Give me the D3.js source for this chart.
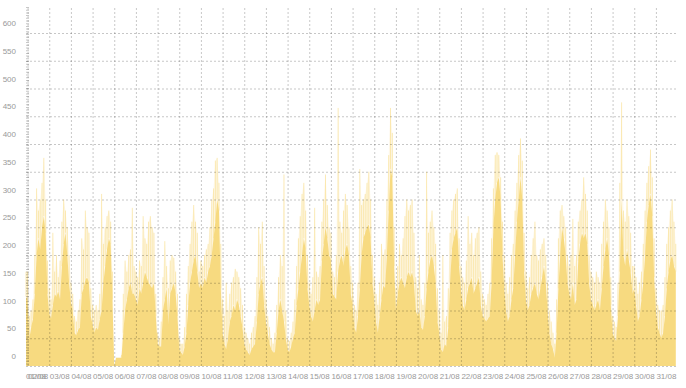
<!DOCTYPE html>
<html>
<head>
<meta charset="utf-8">
<script src="https://cdn.jsdelivr.net/npm/d3@7"></script>
<style>
  html, body { margin: 0; padding: 0; background: #fff; }
  svg { display: block; }
</style>
</head>
<body>
<svg id="chart" width="686" height="388"></svg>
<script>
// tick labels
const dayLabels = ["01/08","02/08","03/08","04/08","05/08","06/08","07/08","08/08","09/08","10/08",
  "11/08","12/08","13/08","14/08","15/08","16/08","17/08","18/08","19/08","20/08",
  "21/08","22/08","23/08","24/08","25/08","26/08","27/08","28/08","29/08","30/08","31/08"];
const yTicks = [0, 50, 100, 150, 200, 250, 300, 350, 400, 450, 500, 550, 600];

// first sample, 01/08 22:15
const firstLevel = 125;
const firstPeak = 170;

// 2-hourly samples per day (00h, 02h ... 22h), 02/08 -> 31/08
// level = dense body of the series, peak = short spikes above it
const level = [
  [120,50,70,85,130,200,230,210,250,270,240,130],   // 02/08
  [95,85,110,130,125,135,120,180,220,240,200,150],  // 03/08
  [115,100,60,55,65,70,130,140,155,160,150,90],     // 04/08
  [75,60,70,65,85,100,150,180,210,230,220,120],     // 05/08
  [0,15,15,15,15,60,100,120,140,150,130,130],       // 06/08
  [120,110,140,130,150,170,160,150,145,140,150,90], // 07/08
  [40,35,35,100,120,140,75,130,140,150,130,90],     // 08/08
  [30,25,20,35,60,110,150,170,190,200,170,140],     // 09/08
  [150,140,160,150,170,180,200,230,260,300,280,140],// 10/08
  [60,40,30,50,80,90,110,100,120,110,90,70],        // 11/08
  [40,30,25,20,30,35,40,80,130,150,160,110],        // 12/08
  [80,60,40,30,25,25,60,100,120,100,80,50],         // 13/08
  [30,25,35,50,60,110,140,170,200,230,210,140],     // 14/08
  [110,90,80,100,120,110,120,190,220,250,230,200],  // 15/08
  [190,130,125,120,170,190,200,180,210,220,200,130],// 16/08
  [110,70,60,90,140,200,230,240,250,255,230,150],   // 17/08
  [120,80,60,90,120,145,140,200,280,355,340,180],   // 18/08
  [100,130,150,160,150,140,160,170,160,170,150,100],// 19/08
  [90,100,70,65,90,140,170,190,200,180,150,80],     // 20/08
  [60,30,25,40,35,70,150,210,230,240,250,180],      // 21/08
  [140,110,100,120,140,150,160,130,140,150,160,110],// 22/08
  [90,85,80,85,90,150,250,300,330,340,300,200],     // 23/08
  [140,100,80,90,120,140,200,260,300,340,300,170],  // 24/08
  [120,100,110,130,140,150,130,120,140,160,180,150],// 25/08
  [100,60,40,30,15,60,140,200,250,230,200,150],     // 26/08
  [130,120,150,110,120,190,220,240,230,240,220,150],// 27/08
  [120,110,100,110,120,100,140,180,210,230,200,110],// 28/08
  [60,50,45,90,170,300,200,180,210,190,170,130],    // 29/08
  [140,110,80,90,120,150,200,260,290,310,270,160],  // 30/08
  [100,70,60,50,60,90,140,170,190,200,180,170]      // 31/08
];
const peak = [
  [170,90,100,120,200,320,280,300,330,375,300,190],
  [140,120,240,170,200,160,190,260,300,280,250,200],
  [150,130,90,80,100,120,230,210,280,250,240,140],
  [110,100,110,100,130,310,220,250,270,280,260,170],
  [0,15,15,15,20,130,190,170,200,210,285,180],
  [170,160,190,180,270,230,220,260,270,250,240,130],
  [60,50,80,160,225,180,140,190,200,195,170,130],
  [50,40,40,70,130,180,220,260,290,260,240,170],
  [190,180,200,210,220,250,300,320,370,375,330,220],
  [120,90,150,100,130,150,160,175,170,160,140,110],
  [70,60,50,40,60,70,90,160,250,220,260,180],
  [120,90,70,50,40,60,110,160,200,180,345,100],
  [50,45,60,80,120,180,230,270,310,330,280,200],
  [150,130,160,285,170,160,180,260,300,345,290,250],
  [240,170,160,200,465,260,240,280,310,290,250,180],
  [150,110,100,150,355,290,300,310,330,350,300,200],
  [160,130,110,150,220,200,210,300,380,465,420,250],
  [140,180,220,200,230,270,300,280,290,300,240,160],
  [140,200,120,110,150,350,240,260,280,250,220,140],
  [100,60,200,80,90,140,240,280,300,310,320,230],
  [180,160,150,190,270,220,240,200,230,240,250,170],
  [130,120,110,130,150,230,320,380,385,380,340,260],
  [200,150,130,160,200,220,280,330,380,410,370,240],
  [170,140,160,200,230,260,200,190,210,220,230,200],
  [150,100,80,60,40,120,230,280,290,270,250,200],
  [180,200,265,180,200,260,280,300,340,310,280,200],
  [170,160,150,170,160,150,220,260,300,280,250,160],
  [90,80,70,150,330,475,280,260,300,270,240,180],
  [180,160,130,150,170,220,280,330,360,390,340,230],
  [140,110,100,100,110,160,220,250,280,300,260,220]
];

const margin = { top: 7, right: 10, bottom: 22, left: 26 };
const width = 686 - margin.left - margin.right;
const height = 388 - margin.top - margin.bottom;
const fillColor = '#f7da80';
const gridColor = 'rgba(0,0,0,0.22)';
const font = 'Liberation Sans, Arial, sans-serif';

const start = new Date(2024, 7, 1, 22, 15);
const end = new Date(2024, 7, 31, 22, 15);

const series = [{ t: start, level: firstLevel, peak: firstPeak }];
level.forEach((day, i) => {
  day.forEach((v, j) => {
    series.push({ t: new Date(2024, 7, 2 + i, 2 * j), level: v, peak: peak[i][j] });
  });
});

const svg = d3.select('#chart');
const g = svg.append('g').attr('transform', `translate(${margin.left},${margin.top})`);

const x = d3.scaleTime().domain([start, end]).range([0, width]);
const y = d3.scaleLinear().domain([0, 600]).range([height, 26]);

// faint envelope of the spikes
g.append('path')
  .datum(series)
  .attr('fill', fillColor)
  .attr('fill-opacity', 0.18)
  .attr('d', d3.area().x(d => x(d.t)).y0(height).y1(d => y(d.peak)));

// spikes
g.selectAll('.spike')
  .data(series)
  .enter()
  .append('line')
  .attr('class', 'spike')
  .attr('x1', d => x(d.t))
  .attr('x2', d => x(d.t))
  .attr('y1', d => y(d.level))
  .attr('y2', d => y(d.peak))
  .attr('stroke', fillColor)
  .attr('stroke-opacity', 0.55)
  .attr('stroke-width', 1);

// body
g.append('path')
  .datum(series)
  .attr('fill', fillColor)
  .attr('d', d3.area().x(d => x(d.t)).y0(height).y1(d => y(d.level)));

// Eje Y + horizontal grid
const yAxis = g.append('g')
  .call(d3.axisLeft(y).tickValues(yTicks).tickSize(-width).tickPadding(10));
yAxis.select('.domain').remove();
yAxis.selectAll('line')
  .attr('stroke', gridColor)
  .attr('stroke-dasharray', '2,2');
yAxis.selectAll('text')
  .attr('y', -10)
  .style('fill', '#999')
  .style('font-family', font)
  .style('font-size', '8px');

// Eje X + vertical grid
const dayDates = dayLabels.slice(1).map((s, i) => new Date(2024, 7, 2 + i));
const xAxis = g.append('g')
  .attr('transform', `translate(0,${height})`)
  .call(d3.axisBottom(x).tickValues(dayDates).tickSize(-height).tickPadding(7)
    .tickFormat((d, i) => dayLabels[i + 1]));
xAxis.select('.domain').remove();
xAxis.selectAll('line')
  .attr('stroke', gridColor)
  .attr('stroke-dasharray', '2,2');
xAxis.selectAll('text')
  .style('text-anchor', 'start')
  .style('fill', '#999')
  .style('font-family', font)
  .style('font-size', '8px');

// first label sits on the left edge
g.append('text')
  .attr('x', 0)
  .attr('y', height + 7)
  .attr('dy', '0.71em')
  .style('fill', '#999')
  .style('font-family', font)
  .style('font-size', '8px')
  .text(dayLabels[0]);

// dense minor ticks along the left edge
g.append('line')
  .attr('x1', 1.5).attr('x2', 1.5)
  .attr('y1', 0).attr('y2', height)
  .attr('stroke', gridColor)
  .attr('stroke-width', 3)
  .attr('stroke-dasharray', '1,1.7');
</script>
</body>
</html>
